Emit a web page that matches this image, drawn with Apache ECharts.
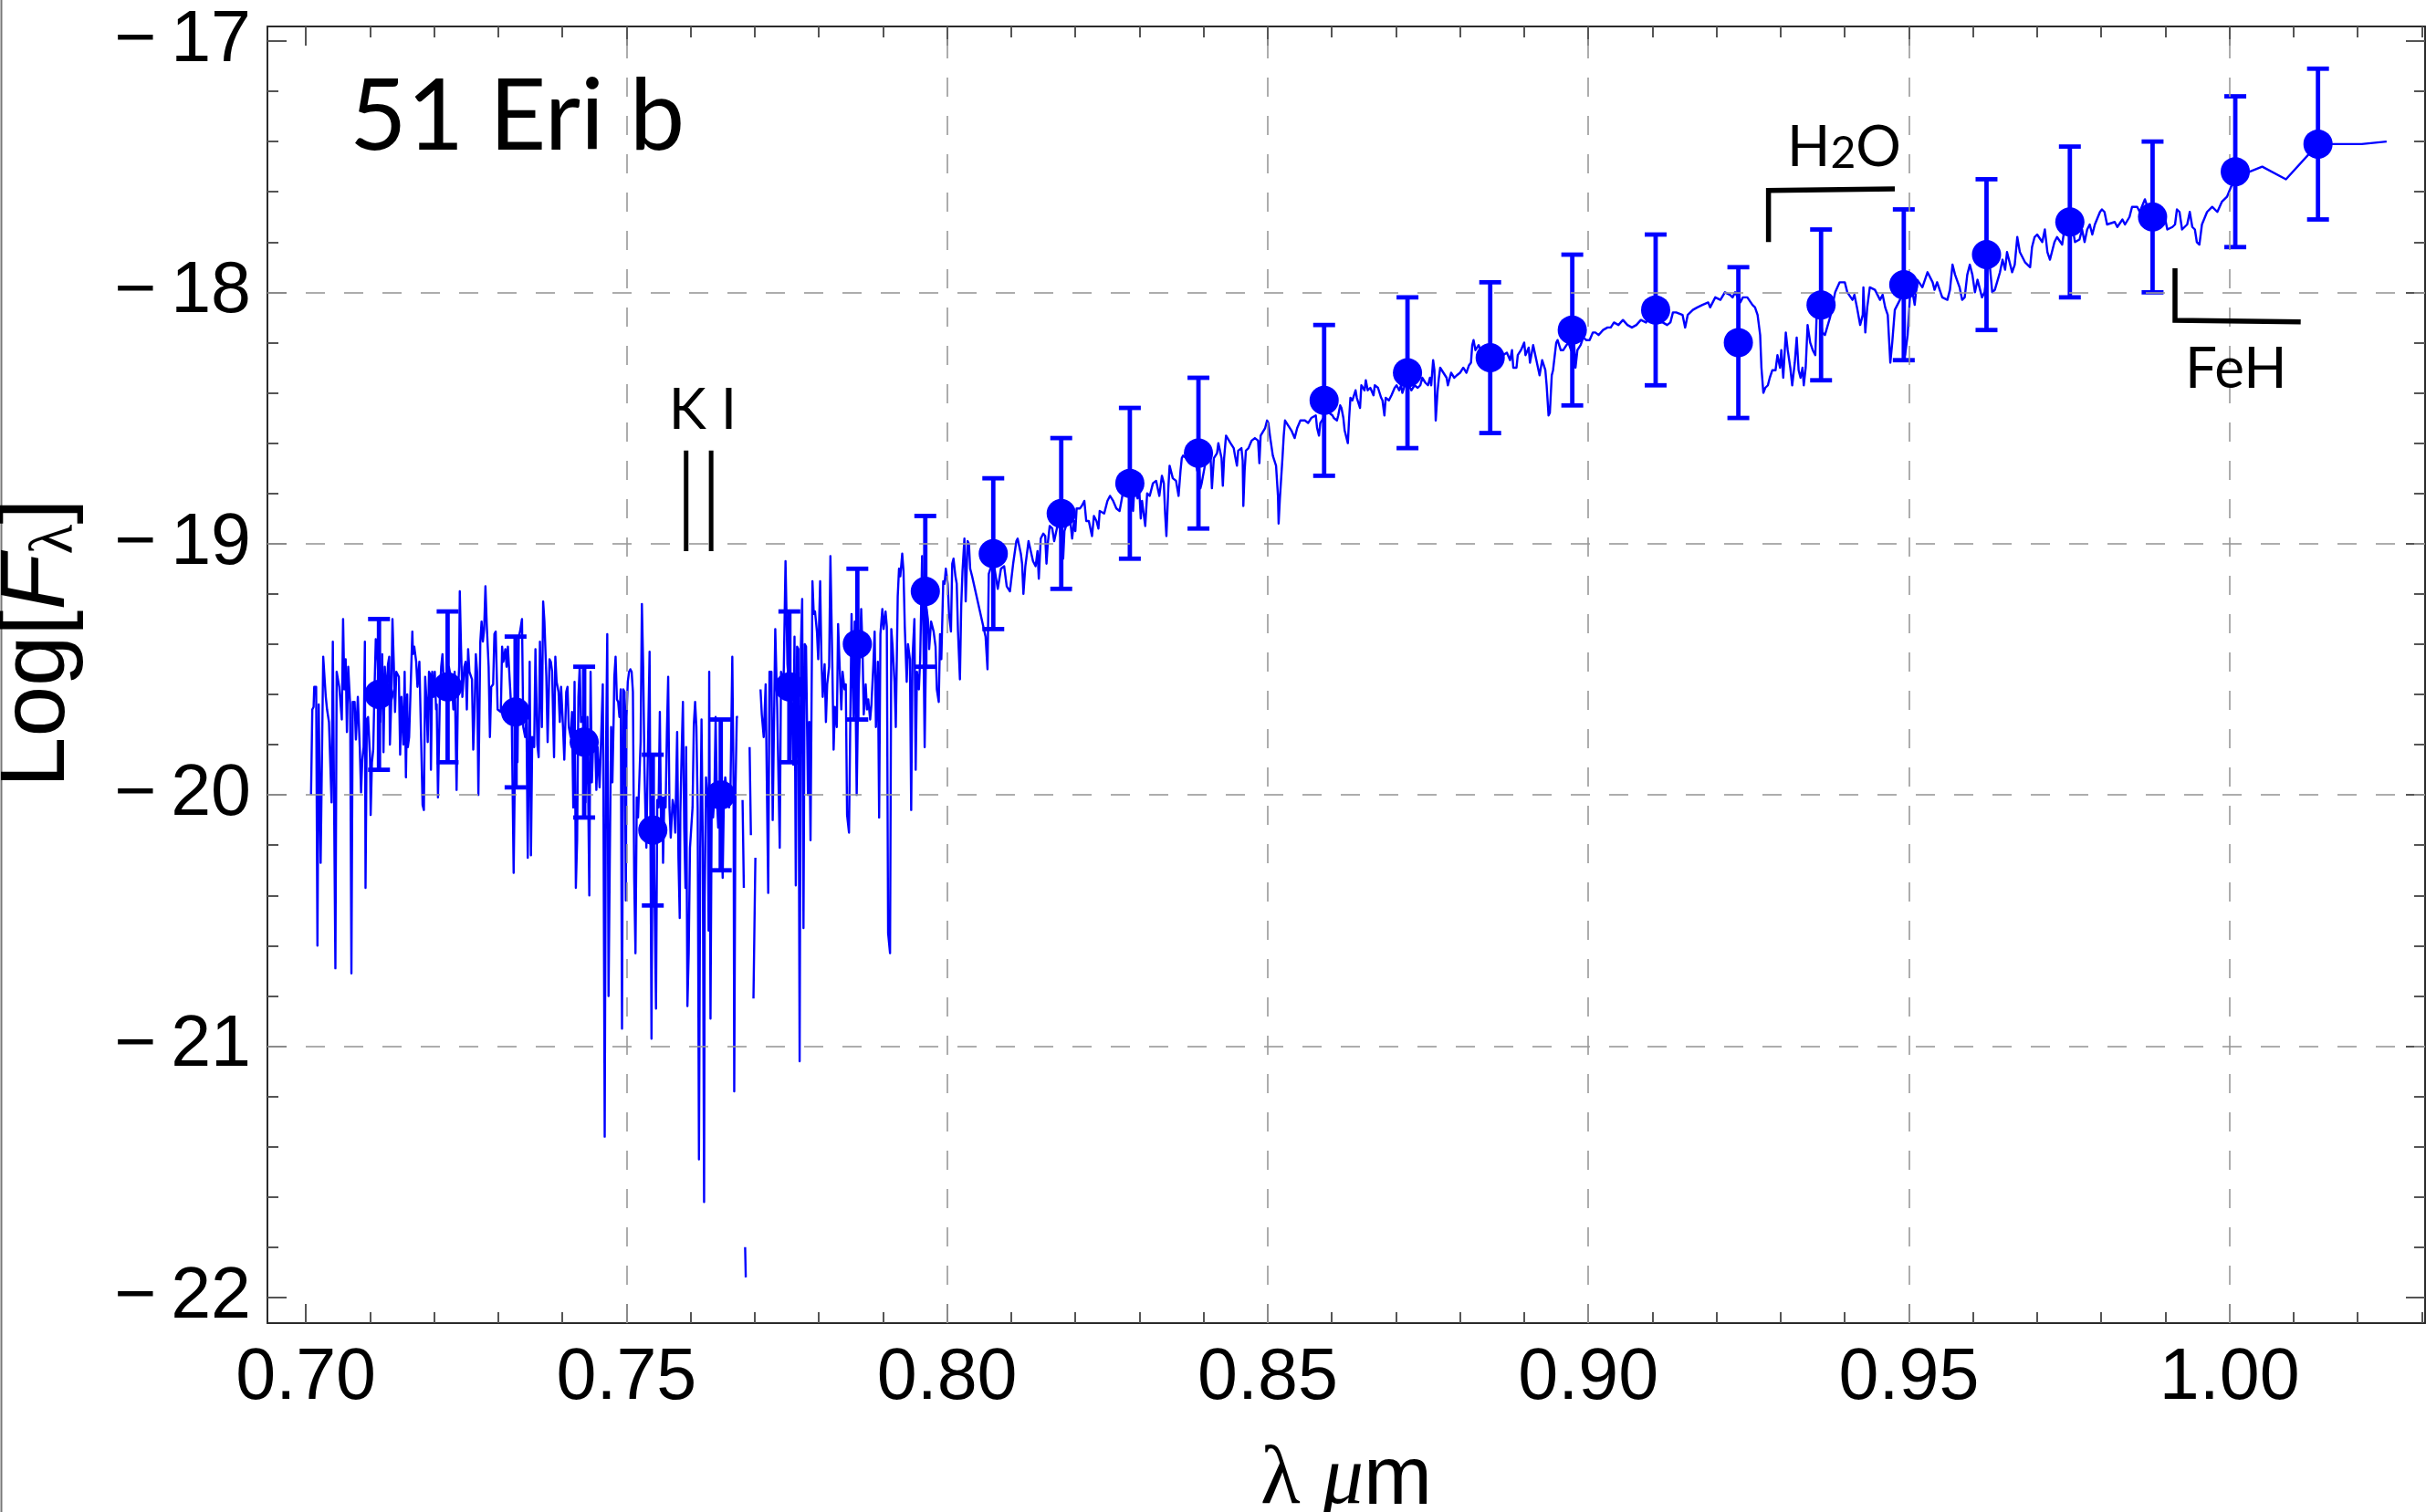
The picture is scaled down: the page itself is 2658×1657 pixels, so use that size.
<!DOCTYPE html>
<html>
<head>
<meta charset="utf-8">
<script src="https://cdn.jsdelivr.net/npm/echarts@6/dist/echarts.min.js"></script>
<style>
  html, body { margin: 0; padding: 0; background: #ffffff; }
  #chart { width: 2658px; height: 1657px; }
</style>
</head>
<body>
<div id="chart"></div>
<script>
// Axis ranges and tick values
const X_MIN = 0.694, X_MAX = 1.0305;
const Y_MIN = -22.102, Y_MAX = -16.942;
const xMajorTicks = [0.70, 0.75, 0.80, 0.85, 0.90, 0.95, 1.00];
const xMinorTicks = [0.70,0.71,0.72,0.73,0.74,0.75,0.76,0.77,0.78,0.79,0.80,0.81,0.82,0.83,0.84,0.85,0.86,0.87,0.88,0.89,0.90,0.91,0.92,0.93,0.94,0.95,0.96,0.97,0.98,0.99,1.00,1.01,1.02,1.03];
const yMajorTicks = [-22, -21, -20, -19, -18, -17];
const yMinorTicks = [-22,-21.8,-21.6,-21.4,-21.2,-21,-20.8,-20.6,-20.4,-20.2,-20,-19.8,-19.6,-19.4,-19.2,-19,-18.8,-18.6,-18.4,-18.2,-18,-17.8,-17.6,-17.4,-17.2,-17];
const xGridLines = [0.75, 0.80, 0.85, 0.90, 0.95, 1.00];
const yGridLines = [-21, -20, -19, -18];

// Photometric points: wavelength (µm), Log F, 1-sigma error (dex)
const photWave = [0.7114,0.7221,0.7327,0.7434,0.7541,0.7647,0.7754,0.7860,0.7966,0.8072,0.8178,0.8285,0.8392,0.8588,0.8718,0.8847,0.8975,0.9105,0.9234,0.9363,0.9492,0.9621,0.9751,0.9880,1.0009,1.0138];
const photLogF = [-19.60,-19.57,-19.67,-19.79,-20.14,-20.00,-19.57,-19.40,-19.19,-19.04,-18.88,-18.76,-18.64,-18.43,-18.32,-18.26,-18.15,-18.07,-18.20,-18.05,-17.97,-17.85,-17.72,-17.70,-17.52,-17.41];
const photErr  = [0.30,0.30,0.30,0.30,0.30,0.30,0.30,0.30,0.30,0.30,0.30,0.30,0.30,0.30,0.30,0.30,0.30,0.30,0.30,0.30,0.30,0.30,0.30,0.30,0.30,0.30];

// Spectrum: [wavelength µm, Log F]; null marks a break (non-positive flux)
const spectrum = [
[0.7008,-20.00],[0.7010,-19.66],[0.7012,-19.65],[0.7013,-19.57],[0.7016,-19.57],[0.7018,-20.60],[0.7020,-19.64],[0.7023,-20.27],[0.7027,-19.45],[0.7031,-19.61],
[0.7033,-19.66],[0.7036,-19.71],[0.7038,-19.71],[0.7040,-20.03],[0.7042,-19.39],[0.7046,-20.69],[0.7048,-19.51],[0.7052,-19.57],[0.7056,-19.70],[0.7058,-19.30],
[0.7060,-19.58],[0.7062,-19.46],[0.7064,-19.75],[0.7066,-19.49],[0.7069,-19.64],[0.7071,-20.71],[0.7073,-19.63],[0.7076,-19.63],[0.7078,-19.78],[0.7081,-19.61],
[0.7084,-19.81],[0.7086,-19.99],[0.7088,-19.86],[0.7090,-19.81],[0.7092,-19.39],[0.7093,-20.37],[0.7095,-19.70],[0.7097,-19.69],[0.7100,-19.85],[0.7101,-20.08],
[0.7103,-19.87],[0.7105,-19.82],[0.7107,-19.58],[0.7109,-19.38],[0.7112,-19.47],[0.7114,-19.60],[0.7116,-19.71],[0.7119,-19.44],[0.7121,-19.83],[0.7123,-19.49],
[0.7126,-19.61],[0.7128,-19.48],[0.7130,-19.45],[0.7131,-19.80],[0.7133,-19.64],[0.7135,-19.30],[0.7137,-19.47],[0.7139,-19.67],[0.7141,-19.51],[0.7145,-19.53],
[0.7147,-19.84],[0.7149,-19.61],[0.7152,-19.80],[0.7154,-19.51],[0.7156,-19.93],[0.7158,-19.60],[0.7159,-19.81],[0.7161,-19.77],[0.7164,-19.52],[0.7166,-19.35],
[0.7167,-19.44],[0.7169,-19.41],[0.7172,-19.47],[0.7174,-19.57],[0.7177,-19.47],[0.7179,-19.47],[0.7182,-20.04],[0.7184,-20.06],[0.7186,-19.53],[0.7188,-19.62],
[0.7190,-19.79],[0.7192,-19.51],[0.7194,-19.52],[0.7195,-19.90],[0.7197,-19.51],[0.7199,-19.61],[0.7201,-19.51],[0.7203,-19.66],[0.7204,-19.64],[0.7206,-20.01],
[0.7209,-19.60],[0.7211,-19.49],[0.7213,-19.44],[0.7216,-19.61],[0.7218,-19.54],[0.7221,-19.57],[0.7223,-19.49],[0.7225,-19.49],[0.7228,-19.56],[0.7230,-19.66],
[0.7232,-19.51],[0.7235,-19.98],[0.7237,-19.61],[0.7239,-19.49],[0.7240,-19.19],[0.7242,-19.42],[0.7244,-19.61],[0.7247,-19.49],[0.7249,-19.47],[0.7251,-19.66],
[0.7253,-19.42],[0.7255,-19.51],[0.7259,-19.54],[0.7261,-19.82],[0.7263,-19.67],[0.7265,-19.44],[0.7267,-19.51],[0.7269,-20.00],[0.7272,-19.39],[0.7274,-19.31],
[0.7276,-19.39],[0.7278,-19.34],[0.7280,-19.17],[0.7282,-19.32],[0.7285,-19.49],[0.7287,-19.77],[0.7289,-19.57],[0.7292,-19.56],[0.7294,-19.36],[0.7296,-19.35],
[0.7299,-19.66],[0.7301,-19.66],[0.7304,-19.67],[0.7306,-19.41],[0.7308,-19.47],[0.7311,-19.42],[0.7313,-19.49],[0.7315,-19.41],
[0.7321,-19.69],[0.7324,-20.31],[0.7327,-19.67],[0.7330,-19.87],[0.7332,-19.37],[0.7334,-19.35],[0.7337,-19.30],[0.7339,-19.73],[0.7342,-19.77],[0.7344,-19.69],
[0.7346,-20.25],[0.7349,-19.47],[0.7351,-20.24],[0.7353,-19.77],[0.7356,-19.81],[0.7358,-19.42],[0.7361,-19.80],[0.7363,-19.85],[0.7365,-19.39],[0.7368,-19.73],
[0.7370,-19.23],[0.7372,-19.31],[0.7375,-19.53],[0.7377,-19.79],[0.7380,-19.46],[0.7382,-19.47],[0.7384,-19.51],[0.7387,-19.85],[0.7389,-19.45],[0.7391,-19.55],
[0.7394,-19.59],[0.7396,-19.71],[0.7398,-19.57],[0.7401,-19.73],[0.7403,-19.86],[0.7406,-19.59],[0.7408,-19.57],[0.7410,-19.73],[0.7413,-19.77],[0.7415,-19.67],
[0.7417,-20.05],[0.7419,-19.55],[0.7421,-20.37],[0.7423,-20.18],[0.7425,-19.61],[0.7427,-19.49],[0.7429,-19.71],[0.7432,-19.69],[0.7434,-19.77],[0.7436,-20.03],
[0.7439,-19.69],[0.7442,-20.40],[0.7444,-19.51],[0.7446,-19.95],[0.7448,-19.79],[0.7451,-19.77],[0.7453,-19.98],[0.7455,-19.81],[0.7458,-19.97],[0.7460,-19.81],
[0.7463,-19.56],[0.7464,-19.98],[0.7466,-21.36],[0.7468,-19.85],[0.7470,-19.36],[0.7472,-20.80],[0.7474,-20.24],[0.7476,-19.73],[0.7478,-19.95],[0.7480,-19.69],
[0.7481,-19.53],[0.7483,-19.45],[0.7485,-19.62],[0.7487,-19.63],[0.7489,-19.69],[0.7491,-19.58],[0.7493,-20.93],[0.7495,-19.58],[0.7497,-19.59],[0.7499,-20.42],
[0.7500,-19.69],[0.7502,-19.55],[0.7504,-19.51],[0.7506,-19.50],[0.7508,-19.51],[0.7510,-19.59],[0.7512,-20.33],[0.7514,-20.63],[0.7516,-20.01],[0.7518,-20.09],
[0.7520,-20.09],[0.7522,-19.79],[0.7524,-19.24],[0.7526,-19.49],[0.7528,-19.89],[0.7530,-20.13],[0.7531,-20.21],[0.7534,-19.73],[0.7536,-19.43],[0.7537,-19.97],
[0.7539,-20.97],[0.7541,-19.93],[0.7542,-20.05],[0.7544,-20.05],[0.7546,-20.85],[0.7548,-20.02],[0.7550,-20.05],[0.7552,-19.67],[0.7554,-20.15],[0.7556,-20.01],
[0.7557,-20.27],[0.7559,-20.01],[0.7561,-20.05],[0.7563,-19.75],[0.7565,-19.53],[0.7567,-20.05],[0.7569,-20.17],[0.7572,-20.02],[0.7574,-20.05],[0.7576,-20.15],
[0.7579,-19.75],[0.7581,-20.25],[0.7583,-20.49],[0.7584,-20.07],[0.7586,-19.83],[0.7588,-19.63],[0.7590,-20.13],[0.7592,-20.37],[0.7593,-19.81],[0.7595,-20.84],
[0.7597,-20.63],[0.7599,-20.21],[0.7601,-20.13],[0.7603,-20.05],[0.7605,-19.72],[0.7607,-19.63],[0.7609,-19.73],[0.7611,-20.05],[0.7613,-21.45],[0.7615,-20.21],
[0.7617,-19.70],[0.7619,-20.21],[0.7621,-21.62],[0.7622,-20.41],[0.7624,-19.93],[0.7627,-20.05],[0.7628,-20.54],[0.7629,-19.51],[0.7631,-20.89],[0.7633,-19.97],
[0.7635,-20.09],[0.7637,-20.01],[0.7639,-19.69],[0.7641,-20.01],[0.7643,-20.13],[0.7645,-19.99],[0.7648,-20.05],[0.7650,-20.33],[0.7652,-19.99],[0.7654,-19.93],
[0.7656,-19.97],[0.7658,-20.01],[0.7660,-20.05],[0.7662,-20.01],[0.7665,-19.45],[0.7667,-19.97],[0.7668,-21.18],[0.7670,-19.97],[0.7672,-19.69],[0.7674,-19.69],
[0.7677,null],
[0.7681,-20.02],[0.7683,-20.37],
[0.7684,null],
[0.7685,-21.80],[0.7686,-21.92],
[0.7689,null],
[0.7692,-19.81],[0.7694,-20.16],
[0.7696,null],
[0.7698,-20.81],[0.7701,-20.25],
[0.7705,null],
[0.7709,-19.58],[0.7711,-19.68],[0.7714,-19.77],[0.7717,-19.56],[0.7721,-20.39],[0.7723,-19.51],[0.7726,-19.51],[0.7728,-20.10],[0.7732,-19.34],[0.7735,-19.65],
[0.7739,-20.21],[0.7741,-19.51],[0.7745,-19.55],[0.7748,-19.07],[0.7751,-19.48],[0.7754,-19.58],[0.7757,-19.58],[0.7760,-19.88],[0.7762,-19.37],[0.7764,-20.36],
[0.7766,-19.41],[0.7768,-19.42],[0.7770,-21.06],[0.7772,-19.41],[0.7774,-19.22],[0.7776,-20.53],[0.7778,-19.40],[0.7780,-19.41],[0.7783,-20.00],[0.7785,-19.71],
[0.7787,-20.18],[0.7790,-19.15],[0.7792,-19.28],[0.7794,-19.27],[0.7797,-19.35],[0.7799,-19.46],[0.7802,-19.15],[0.7804,-19.46],[0.7806,-19.61],[0.7809,-19.48],
[0.7811,-19.71],[0.7813,-19.56],[0.7816,-19.49],[0.7818,-19.05],[0.7821,-19.48],[0.7823,-19.82],[0.7825,-19.65],[0.7828,-19.73],[0.7830,-19.32],[0.7832,-19.46],
[0.7835,-19.66],[0.7837,-19.51],[0.7840,-19.58],[0.7842,-19.56],[0.7844,-20.08],[0.7847,-20.15],[0.7849,-19.71],[0.7851,-19.28],[0.7854,-19.70],[0.7856,-19.31],
[0.7859,-20.00],[0.7861,-19.65],[0.7863,-19.51],[0.7866,-19.26],[0.7868,-19.41],[0.7870,-19.68],[0.7873,-19.56],[0.7875,-19.66],[0.7877,-19.62],[0.7880,-19.70],
[0.7882,-19.64],[0.7885,-19.48],[0.7887,-19.35],[0.7889,-19.73],[0.7892,-19.47],[0.7894,-20.09],[0.7896,-19.36],[0.7899,-19.26],[0.7901,-19.34],[0.7904,-19.27],
[0.7906,-19.33],[0.7908,-20.55],[0.7911,-20.63],[0.7913,-19.34],[0.7915,-19.41],[0.7918,-19.55],[0.7920,-19.73],[0.7923,-19.21],[0.7925,-19.10],[0.7927,-19.13],
[0.7930,-19.04],[0.7932,-19.11],[0.7934,-19.33],[0.7937,-19.55],[0.7939,-19.40],[0.7942,-19.46],[0.7944,-20.06],[0.7946,-19.46],[0.7949,-19.30],[0.7951,-19.90],
[0.7953,-19.51],[0.7956,-19.58],[0.7958,-19.46],[0.7961,-19.05],[0.7963,-19.36],[0.7965,-19.81],[0.7968,-19.26],[0.7970,-19.30],[0.7972,-19.42],[0.7975,-19.31],
[0.7977,-19.31],[0.7979,-19.35],[0.7982,-19.41],[0.7984,-19.58],[0.7987,-19.63],[0.7989,-19.36],[0.7991,-19.46],[0.7994,-19.15],[0.7996,-19.16],[0.7998,-19.10],
[0.8001,-19.16],[0.8003,-19.28],[0.8006,-19.35],[0.8008,-19.08],[0.8010,-19.06],[0.8013,-19.13],[0.8015,-19.16],[0.8017,-19.35],[0.8020,-19.54],[0.8022,-19.25],
[0.8024,-19.11],[0.8027,-18.98],[0.8029,-19.23],[0.8032,-18.99],[0.8034,-19.00],[0.8036,-19.10],[0.8039,-19.13],
[0.8060,-19.37],[0.8063,-19.50],[0.8065,-19.12],[0.8070,-19.08],[0.8074,-19.10],[0.8079,-19.18],[0.8084,-19.10],[0.8089,-19.09],[0.8093,-19.17],[0.8098,-19.19],
[0.8103,-19.08],[0.8108,-18.99],[0.8110,-18.98],[0.8115,-19.04],[0.8117,-19.08],[0.8119,-19.20],[0.8122,-19.09],[0.8127,-18.99],[0.8134,-19.07],[0.8138,-19.09],
[0.8141,-19.03],[0.8143,-19.14],[0.8146,-18.98],[0.8150,-18.96],[0.8153,-18.97],[0.8155,-19.08],[0.8157,-19.00],[0.8160,-18.93],[0.8164,-18.94],[0.8167,-18.99],
[0.8172,-18.93],[0.8174,-18.89],[0.8176,-18.95],[0.8181,-19.06],[0.8183,-18.95],[0.8188,-18.91],[0.8191,-18.88],[0.8195,-18.98],[0.8198,-18.91],[0.8200,-18.95],
[0.8202,-18.86],[0.8207,-18.86],[0.8210,-18.85],[0.8214,-18.83],[0.8217,-18.91],[0.8221,-18.91],[0.8226,-18.97],[0.8229,-18.89],[0.8233,-18.91],[0.8236,-18.94],
[0.8238,-18.87],[0.8245,-18.88],[0.8250,-18.83],[0.8254,-18.81],[0.8259,-18.83],[0.8264,-18.86],[0.8269,-18.87],[0.8274,-18.80],[0.8278,-18.77],[0.8281,-18.75],
[0.8285,-18.76],[0.8288,-18.81],[0.8290,-18.87],[0.8292,-18.78],[0.8297,-18.82],[0.8300,-18.80],[0.8302,-18.90],[0.8304,-18.83],[0.8309,-18.93],[0.8312,-18.80],
[0.8316,-18.81],[0.8321,-18.76],[0.8326,-18.75],[0.8331,-18.81],[0.8335,-18.73],[0.8338,-18.76],[0.8340,-18.88],[0.8342,-18.97],[0.8345,-18.78],[0.8347,-18.69],
[0.8352,-18.74],[0.8357,-18.75],[0.8361,-18.81],[0.8364,-18.71],[0.8366,-18.66],[0.8368,-18.65],[0.8373,-18.66],[0.8378,-18.64],[0.8383,-18.64],[0.8387,-18.66],
[0.8390,-18.71],[0.8392,-18.66],[0.8395,-18.78],[0.8397,-18.76],[0.8402,-18.69],[0.8406,-18.66],[0.8411,-18.66],[0.8413,-18.78],[0.8416,-18.66],[0.8421,-18.64],
[0.8423,-18.60],[0.8428,-18.66],[0.8430,-18.77],[0.8432,-18.66],[0.8435,-18.57],[0.8437,-18.57],[0.8442,-18.60],[0.8447,-18.62],[0.8449,-18.65],[0.8452,-18.69],
[0.8454,-18.63],[0.8459,-18.62],[0.8461,-18.67],[0.8462,-18.85],[0.8464,-18.71],[0.8466,-18.63],[0.8470,-18.62],[0.8475,-18.59],[0.8480,-18.58],[0.8485,-18.59],
[0.8487,-18.68],[0.8489,-18.57],[0.8496,-18.54],[0.8499,-18.51],[0.8501,-18.52],[0.8504,-18.58],[0.8508,-18.65],[0.8513,-18.69],[0.8516,-18.81],[0.8517,-18.92],
[0.8519,-18.82],[0.8523,-18.66],[0.8525,-18.57],[0.8527,-18.51],[0.8532,-18.53],[0.8537,-18.55],[0.8542,-18.58],[0.8546,-18.54],[0.8551,-18.51],[0.8558,-18.51],
[0.8563,-18.52],[0.8568,-18.50],[0.8575,-18.49],[0.8577,-18.54],[0.8580,-18.57],[0.8582,-18.52],[0.8587,-18.50],[0.8592,-18.45],[0.8596,-18.48],
[0.8601,-18.49],[0.8603,-18.50],[0.8608,-18.51],[0.8610,-18.49],[0.8613,-18.45],[0.8615,-18.46],[0.8618,-18.50],[0.8620,-18.55],[0.8622,-18.55],[0.8625,-18.60],
[0.8627,-18.50],[0.8629,-18.42],[0.8632,-18.43],[0.8637,-18.39],[0.8639,-18.42],[0.8644,-18.46],[0.8646,-18.37],[0.8651,-18.39],[0.8653,-18.35],[0.8656,-18.39],
[0.8660,-18.38],[0.8665,-18.41],[0.8667,-18.37],[0.8672,-18.38],[0.8677,-18.42],[0.8679,-18.43],[0.8682,-18.49],[0.8684,-18.42],[0.8689,-18.43],[0.8693,-18.41],
[0.8698,-18.38],[0.8701,-18.37],[0.8705,-18.39],[0.8708,-18.37],[0.8710,-18.40],[0.8715,-18.36],[0.8720,-18.37],[0.8724,-18.39],[0.8729,-18.37],[0.8734,-18.38],
[0.8738,-18.37],[0.8741,-18.34],[0.8746,-18.36],[0.8750,-18.37],[0.8753,-18.34],[0.8755,-18.37],[0.8758,-18.27],[0.8760,-18.31],[0.8762,-18.51],[0.8765,-18.39],
[0.8767,-18.34],[0.8769,-18.30],[0.8774,-18.32],[0.8779,-18.34],[0.8781,-18.37],[0.8786,-18.32],[0.8791,-18.34],[0.8795,-18.33],[0.8800,-18.32],[0.8805,-18.30],
[0.8810,-18.32],[0.8814,-18.29],[0.8817,-18.28],[0.8819,-18.21],[0.8821,-18.19],[0.8824,-18.23],[0.8829,-18.21],[0.8833,-18.24],[0.8838,-18.23],[0.8843,-18.25],
[0.8848,-18.25],[0.8852,-18.25],[0.8857,-18.25],[0.8862,-18.24],[0.8867,-18.25],[0.8873,-18.24],[0.8878,-18.27],[0.8881,-18.23],[0.8883,-18.30],[0.8888,-18.30],
[0.8890,-18.25],[0.8895,-18.23],[0.8900,-18.20],[0.8902,-18.25],[0.8907,-18.22],[0.8909,-18.28],[0.8914,-18.21],[0.8919,-18.27],[0.8924,-18.33],[0.8928,-18.27],
[0.8933,-18.31],[0.8935,-18.37],[0.8938,-18.49],[0.8940,-18.48],[0.8943,-18.33],[0.8945,-18.31],[0.8950,-18.20],[0.8952,-18.19],[0.8957,-18.23],[0.8961,-18.23],
[0.8966,-18.21],[0.8969,-18.20],[0.8973,-18.23],[0.8976,-18.17],[0.8978,-18.21],[0.8980,-18.30],[0.8983,-18.23],[0.8988,-18.21],[0.8992,-18.18],[0.8997,-18.19],
[0.9002,-18.19],[0.9007,-18.16],[0.9011,-18.16],[0.9016,-18.17],[0.9023,-18.15],[0.9030,-18.14],[0.9035,-18.14],[0.9040,-18.12],[0.9047,-18.13],[0.9054,-18.11],
[0.9061,-18.13],[0.9068,-18.14],[0.9075,-18.13],[0.9082,-18.11],[0.9090,-18.12],[0.9097,-18.09],[0.9104,-18.09],[0.9106,-18.06],[0.9111,-18.12],[0.9116,-18.12],
[0.9123,-18.13],[0.9128,-18.12],[0.9132,-18.08],[0.9137,-18.08],
[0.9147,-18.09],[0.9151,-18.14],[0.9155,-18.09],[0.9163,-18.07],[0.9170,-18.06],[0.9178,-18.05],[0.9187,-18.04],[0.9190,-18.06],[0.9198,-18.02],[0.9206,-18.03],
[0.9213,-18.00],[0.9221,-18.01],[0.9225,-18.02],[0.9229,-18.00],[0.9237,-18.04],[0.9241,-18.02],[0.9248,-18.02],[0.9256,-18.05],[0.9260,-18.06],[0.9264,-18.09],
[0.9268,-18.17],[0.9270,-18.30],[0.9273,-18.40],[0.9276,-18.38],[0.9280,-18.37],[0.9283,-18.34],[0.9287,-18.31],[0.9292,-18.31],[0.9295,-18.25],[0.9299,-18.30],
[0.9301,-18.23],[0.9304,-18.34],[0.9308,-18.16],[0.9311,-18.23],[0.9315,-18.30],[0.9318,-18.37],[0.9322,-18.28],[0.9325,-18.18],[0.9328,-18.31],[0.9331,-18.34],
[0.9334,-18.30],[0.9336,-18.37],[0.9339,-18.30],[0.9342,-18.13],[0.9346,-18.20],[0.9350,-18.23],[0.9354,-18.25],[0.9357,-18.02],[0.9365,-18.16],[0.9369,-18.17],
[0.9377,-18.10],[0.9381,-18.05],[0.9385,-18.00],[0.9392,-17.96],[0.9400,-17.96],[0.9404,-18.00],[0.9412,-18.03],[0.9415,-18.01],[0.9419,-18.06],[0.9424,-18.13],
[0.9428,-18.09],[0.9429,-17.98],[0.9432,-18.16],[0.9435,-18.06],[0.9439,-17.98],[0.9447,-17.99],[0.9455,-18.03],[0.9459,-18.01],[0.9463,-18.06],[0.9467,-18.09],
[0.9471,-18.28],[0.9474,-18.20],[0.9478,-18.07],[0.9486,-18.03],[0.9490,-17.97],[0.9494,-18.25],[0.9498,-18.17],[0.9502,-18.00],[0.9505,-17.99],[0.9509,-18.05],
[0.9513,-17.95],[0.9521,-17.98],[0.9529,-17.92],[0.9537,-17.96],[0.9540,-17.99],[0.9544,-17.96],[0.9552,-18.02],[0.9560,-18.03],[0.9564,-17.99],[0.9568,-17.89],
[0.9572,-17.93],[0.9579,-17.98],[0.9583,-18.03],[0.9587,-18.02],[0.9591,-17.93],[0.9595,-17.89],[0.9599,-17.93],[0.9603,-18.00],[0.9607,-17.95],[0.9614,-18.02],
[0.9618,-18.00],[0.9622,-17.91],[0.9626,-17.89],[0.9630,-18.00],[0.9634,-17.99],[0.9642,-17.92],[0.9646,-17.87],[0.9650,-17.91],[0.9653,-17.84],[0.9661,-17.92],
[0.9665,-17.89],[0.9669,-17.78],[0.9673,-17.84],[0.9681,-17.88],[0.9689,-17.90],[0.9692,-17.82],[0.9696,-17.78],[0.9700,-17.77],[0.9708,-17.80],[0.9712,-17.75],
[0.9716,-17.84],[0.9720,-17.87],[0.9727,-17.80],[0.9731,-17.78],[0.9739,-17.81],[0.9743,-17.74],[0.9747,-17.73],[0.9751,-17.80],[0.9755,-17.74],[0.9759,-17.80],
[0.9766,-17.79],[0.9770,-17.75],[0.9774,-17.80],[0.9778,-17.75],[0.9782,-17.73],[0.9786,-17.77],[0.9790,-17.73],[0.9798,-17.68],[0.9801,-17.67],[0.9805,-17.68],
[0.9809,-17.73],[0.9821,-17.72],[0.9825,-17.74],[0.9833,-17.71],[0.9837,-17.73],[0.9844,-17.70],[0.9848,-17.66],[0.9856,-17.66],[0.9860,-17.68],[0.9868,-17.63],
[0.9872,-17.66],[0.9879,-17.70],[0.9887,-17.68],[0.9891,-17.66],[0.9899,-17.70],[0.9903,-17.75],[0.9911,-17.74],[0.9915,-17.73],[0.9918,-17.67],[0.9922,-17.68],
[0.9926,-17.75],[0.9934,-17.73],[0.9938,-17.68],[0.9942,-17.74],[0.9946,-17.75],[0.9949,-17.80],[0.9953,-17.81],[0.9957,-17.73],[0.9965,-17.68],[0.9973,-17.66],
[0.9981,-17.68],[0.9988,-17.64],[0.9996,-17.62],[1.0004,-17.57],[1.0012,-17.54],[1.0051,-17.50],[1.0088,-17.55],[1.0138,-17.41],[1.0168,-17.41],[1.0206,-17.41],
[1.0245,-17.40]
];

// Feature markers (segments in data space) and their labels
const kiMarkA = [[0.7593, -18.63], [0.7593, -19.03]];
const kiMarkB = [[0.7632, -18.63], [0.7632, -19.03]];
const h2oBracket = [[0.9281, -17.80], [0.9281, -17.595], [0.9478, -17.588]];
const fehBracket = [[0.9915, -17.904], [0.9915, -18.111], [1.0111, -18.118]];
const featureNames = ['K I', 'H2O', 'FeH'];
const featureAt = [[0.7619, -18.47], [0.9399, -17.425], [1.0010, -18.307]];

const BLUE = '#0000ff';
const FRAME = '#2b2b2b';
const TICK = '#555555';
const TICK_FONT = 'Liberation Sans, Arial, sans-serif';
const NOTE_FONT = 'Lato, Noto Sans, sans-serif';
const TICK_SIZE = 79;

const chart = echarts.init(document.getElementById('chart'), null, { renderer: 'canvas' });

function xAxisDef(position, ticks, tickLen, withLabels, withLine) {
  return {
    type: 'value', position, min: X_MIN, max: X_MAX, scale: true,
    axisLine: { show: withLine, onZero: false, lineStyle: { color: FRAME, width: 2 } },
    axisTick: { show: true, inside: true, length: tickLen, customValues: ticks, lineStyle: { color: TICK, width: 2 } },
    axisLabel: {
      show: withLabels, customValues: ticks, margin: 22,
      formatter: v => v.toFixed(2),
      fontFamily: TICK_FONT, fontSize: TICK_SIZE, color: '#000'
    },
    splitLine: { show: false }, axisPointer: { show: false }
  };
}
function yAxisDef(position, ticks, tickLen, withLabels, withLine) {
  return {
    type: 'value', position, min: Y_MIN, max: Y_MAX, scale: true,
    axisLine: { show: withLine, onZero: false, lineStyle: { color: FRAME, width: 2 } },
    axisTick: { show: true, inside: true, length: tickLen, customValues: ticks, lineStyle: { color: TICK, width: 2 } },
    axisLabel: {
      show: withLabels, customValues: ticks, margin: 18,
      formatter: v => (v < 0 ? '\u2212\u2009' : '') + Math.abs(v),
      fontFamily: TICK_FONT, fontSize: TICK_SIZE, color: '#000'
    },
    splitLine: { show: false }, axisPointer: { show: false }
  };
}

const xAxes = [
  xAxisDef('bottom', xMajorTicks, 21, true, true),
  xAxisDef('bottom', xMinorTicks, 12, false, false),
  xAxisDef('top', xMajorTicks, 21, false, true),
  xAxisDef('top', xMinorTicks, 12, false, false)
];
xAxes[0].name = '{l|\u03bb}{sp| }{u|\u03bc}{m|m}';
xAxes[0].nameLocation = 'middle';
xAxes[0].nameGap = 128;
xAxes[0].nameTextStyle = {
  rich: {
    l: { fontFamily: 'Liberation Serif, serif', fontSize: 90, color: '#000' },
    sp: { fontFamily: 'Liberation Serif, serif', fontSize: 90, width: 24 },
    u: { fontFamily: 'Liberation Serif, serif', fontStyle: 'italic', fontSize: 90, color: '#000' },
    m: { fontFamily: TICK_FONT, fontSize: 90, color: '#000' }
  }
};

const yAxes = [
  yAxisDef('left', yMajorTicks, 21, true, true),
  yAxisDef('left', yMinorTicks, 12, false, false),
  yAxisDef('right', yMajorTicks, 21, false, true),
  yAxisDef('right', yMinorTicks, 12, false, false)
];

function markSeries(data, lineWidth) {
  return {
    type: 'line', data, xAxisIndex: 0, yAxisIndex: 0, showSymbol: false, symbol: 'none',
    silent: true, animation: false, z: 6,
    lineStyle: { color: '#000', width: lineWidth, cap: 'butt', join: 'miter' }
  };
}

const option = {
  animation: false,
  backgroundColor: '#ffffff',
  title: {
    text: '51 Eri b', left: 378, top: 70,
    textStyle: { fontFamily: NOTE_FONT, fontSize: 108, fontWeight: 'normal', color: '#000' }
  },
  grid: { left: 293, right: 1, top: 29, bottom: 207, containLabel: false, outerBoundsMode: 'none' },
  xAxis: xAxes,
  yAxis: yAxes,
  graphic: [
    { type: 'line', shape: { x1: 1.5, y1: 0, x2: 1.5, y2: 1657 }, style: { stroke: '#777', lineWidth: 2 }, silent: true },
    {
      type: 'text', x: 42, y: 705, rotation: Math.PI / 2, silent: true,
      style: {
        text: 'Log[{f|F}{s|\u03bb}]', align: 'center', verticalAlign: 'middle',
        font: '100px Liberation Sans', fill: '#000',
        rich: {
          f: { fontFamily: TICK_FONT, fontStyle: 'italic', fontSize: 100, fill: '#000' },
          s: { fontFamily: 'Liberation Serif, serif', fontSize: 68, fill: '#000', padding: [38, 0, 0, 0] }
        }
      }
    }
  ],
  series: [
    {
      // dashed reference grid
      type: 'line', data: [], silent: true, z: 1,
      markLine: {
        silent: true, symbol: ['none', 'none'], animation: false,
        label: { show: false },
        lineStyle: { color: '#9a9a9a', width: 1.6, type: [21, 21] },
        data: xGridLines.map(v => ({ xAxis: v })).concat(yGridLines.map(v => ({ yAxis: v })))
      }
    },
    {
      type: 'line', data: spectrum, showSymbol: false, symbol: 'none', connectNulls: false,
      silent: true, z: 3, clip: true,
      lineStyle: { color: BLUE, width: 2.4, join: 'round' }
    },
    {
      type: 'custom', z: 4, silent: true, clip: true,
      data: photWave.map((w, i) => [w, photLogF[i] - photErr[i], photLogF[i] + photErr[i]]),
      renderItem(params, api) {
        const lo = api.coord([api.value(0), api.value(1)]);
        const hi = api.coord([api.value(0), api.value(2)]);
        const half = 12;
        const style = { stroke: BLUE, lineWidth: 4.8, lineCap: 'butt' };
        return {
          type: 'group', children: [
            { type: 'line', shape: { x1: lo[0], y1: lo[1], x2: hi[0], y2: hi[1] }, style },
            { type: 'line', shape: { x1: lo[0] - half, y1: lo[1], x2: lo[0] + half, y2: lo[1] }, style },
            { type: 'line', shape: { x1: hi[0] - half, y1: hi[1], x2: hi[0] + half, y2: hi[1] }, style }
          ]
        };
      }
    },
    {
      type: 'scatter', z: 5, silent: true,
      data: photWave.map((w, i) => [w, photLogF[i]]),
      symbol: 'circle', symbolSize: 32,
      itemStyle: { color: BLUE, opacity: 1 }
    },
    markSeries(kiMarkA, 5),
    markSeries(kiMarkB, 5),
    markSeries(h2oBracket, 5.5),
    markSeries(fehBracket, 5.5),
    {
      // feature labels placed in data space
      type: 'custom', z: 7, silent: true, clip: false,
      data: featureAt,
      renderItem(params, api) {
        const p = api.coord([api.value(0), api.value(1)]);
        const name = featureNames[params.dataIndex];
        const text = name === 'H2O' ? '{a|H}{b|2}{a|O}' : '{a|' + name + '}';
        return {
          type: 'text', x: p[0], y: p[1],
          style: {
            text, align: 'center', verticalAlign: 'middle', fill: '#000',
            font: '62px Lato',
            rich: {
              a: { fontFamily: NOTE_FONT, fontSize: 62, fill: '#000', verticalAlign: 'bottom' },
              b: { fontFamily: NOTE_FONT, fontSize: 48, fill: '#000', verticalAlign: 'bottom' }
            }
          }
        };
      }
    }
  ]
};

chart.setOption(option);
</script>
</body>
</html>
